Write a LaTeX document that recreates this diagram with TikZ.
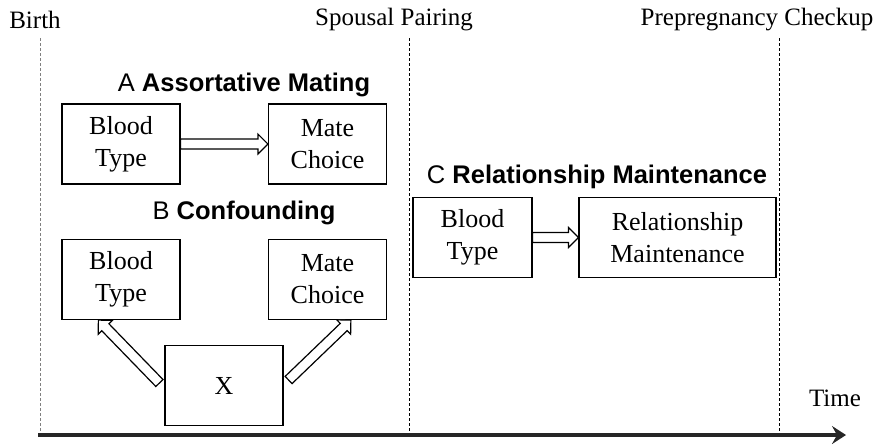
\documentclass[tikz,border=0pt]{standalone}
\usepackage{fontspec}
\setmainfont{Liberation Serif}
\setsansfont{Liberation Sans}
\usetikzlibrary{arrows.meta,calc}
\begin{document}
\begin{tikzpicture}[x=1pt,y=-1pt,
  lbl/.style={font=\fontsize{25}{30}\selectfont},
  ttl/.style={font=\sffamily\fontsize{25.5}{30}\selectfont},
  box/.style={draw, line width=1.2pt, minimum width=118pt, minimum height=80pt, align=center, inner sep=2pt, font=\fontsize{26}{32}\selectfont},
  tline/.style={dash pattern=on 3pt off 2pt, line width=0.8pt},
  hollow/.style={draw, fill=white, line width=1.2pt, line join=miter,
    to path={let \p1=($(\tikztotarget)!10pt!(\tikztostart)$) in
      ($(\tikztostart)!5pt!90:(\tikztotarget)$) --
      ($(\p1)!5pt!90:(\tikztotarget)$) --
      ($(\p1)!10pt!90:(\tikztotarget)$) --
      (\tikztotarget) --
      ($(\p1)!10pt!-90:(\tikztotarget)$) --
      ($(\p1)!5pt!-90:(\tikztotarget)$) --
      ($(\tikztostart)!5pt!-90:(\tikztotarget)$) -- cycle}},
]
\useasboundingbox (0,0) rectangle (882,445);
\node[lbl] (birth) at (35,20) {Birth};
\node[lbl] (pair) at (394,20) {Spousal Pairing};
\node[lbl] (check) at (757,20) {Prepregnancy Checkup};
\draw[tline, gray] (40,38) -- (40,434);
\draw[tline] (409,38) -- (409,434);
\draw[tline] (779,38) -- (779,434);
\coordinate (ax0) at (38,435);
\coordinate (ax1) at (846,435);
\draw[line width=3.4pt, color=black!85, -{Stealth[length=14pt,width=18pt,inset=5pt]}] (ax0) -- (ax1);
\node[lbl] (time) at (835,398) {Time};

\node[ttl] (tA) at (244,85) {A \textbf{Assortative Mating}};
\node[box] (bt1) at (121,144) {Blood\\Type};
\node[box] (mc1) at (327.5,144) {Mate\\Choice};
\path[hollow] (bt1.east) to (mc1.west);

\node[ttl] (tB) at (244,213) {B \textbf{Confounding}};
\node[box] (bt2) at (121,279.5) {Blood\\Type};
\node[box] (mc2) at (327.5,279.5) {Mate\\Choice};
\node[box] (xb) at (224,385.5) {X};
\coordinate (b2in) at ($(bt2.south west)+(37,0)$);
\coordinate (m2in) at ($(mc2.south west)+(83,0)$);
\coordinate (xl) at ($(xb.west)+(-5,-2.5)$);
\coordinate (xr) at ($(xb.east)+(5,-5.5)$);
\path[hollow] (xl) to (b2in);
\path[hollow] (xr) to (m2in);

\node[ttl] (tC) at (597,177) {C \textbf{Relationship Maintenance}};
\node[box, minimum width=119pt] (bt3) at (472.5,237.5) {Blood\\Type};
\node[box, minimum width=197pt] (rm) at (677.5,237.5) {Relationship\\Maintenance};
\path[hollow] (bt3.east) to (rm.west);
\end{tikzpicture}
\end{document}
